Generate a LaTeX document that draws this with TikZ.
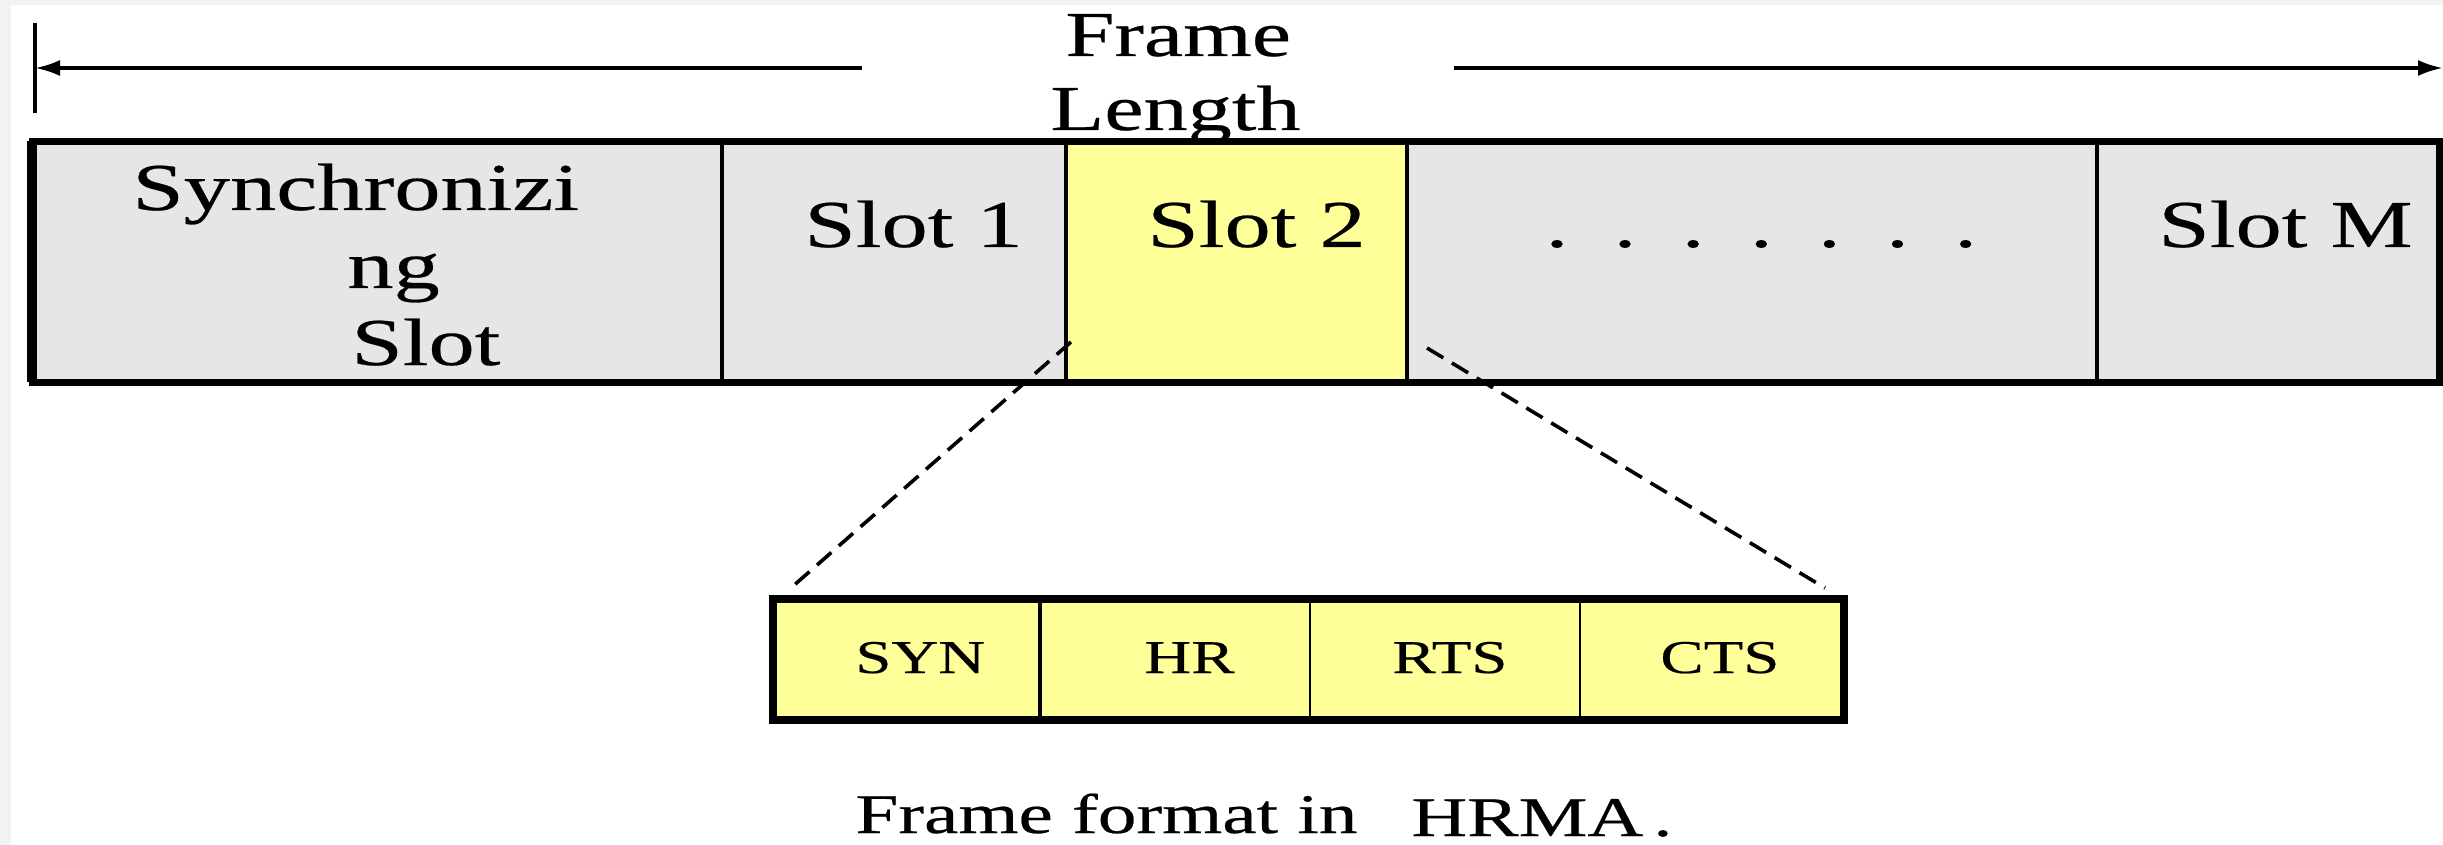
\documentclass[tikz,border=0pt]{standalone}
\usepackage{fontspec}
\newfontfamily\wf[FakeStretch=1.38,FakeBold=0.4]{Liberation Serif}
\usetikzlibrary{arrows.meta}
\definecolor{cellgray}{HTML}{E6E6E6}
\definecolor{cellyellow}{HTML}{FFFF99}
\definecolor{margingray}{HTML}{F2F2F2}
\tikzset{
  cell/.style={draw=black, line width=2pt, fill=cellgray, inner sep=0pt, outer sep=0pt, minimum height=120.5pt},
  subcell/.style={draw=black, line width=1pt, fill=cellyellow, inner sep=0pt, outer sep=0pt, minimum height=60.5pt},
  bigtxt/.style={inner sep=0pt, anchor=base west, font=\wf\fontsize{33.5pt}{40pt}\selectfont},
  toptxt/.style={inner sep=0pt, anchor=base west, font=\wf\fontsize{32pt}{38pt}\selectfont},
  smalltxt/.style={inner sep=0pt, anchor=base west, font=\wf\fontsize{23.5pt}{28pt}\selectfont},
  captxt/.style={inner sep=0pt, anchor=base west, font=\wf\fontsize{28pt}{34pt}\selectfont},
  lenarrow/.style={line width=1.7pt, -{Latex[length=12.5pt,width=8pt]}},
  zoomline/.style={line width=1.8pt, dash pattern=on 9.5pt off 5pt}
}
\begin{document}
\begin{tikzpicture}[x=0.5pt,y=-0.5pt]
  \useasboundingbox (0,0) rectangle (2443,845);
  \fill[margingray] (0,0) rectangle (2443,845);
  \fill[white] (11,5) rectangle (2443,845);

  % frame length dimension
  \coordinate (tickt) at (35,23);
  \coordinate (tickb) at (35,113);
  \coordinate (lstart) at (862,68);
  \coordinate (lend) at (35,68);
  \coordinate (rstart) at (1454,68);
  \coordinate (rend) at (2443,68);
  \draw[line width=2pt] (tickt) -- (tickb);
  \draw[lenarrow] (lstart) -- (lend);
  \draw[lenarrow] (rstart) -- (rend);
  \node[toptxt] (tframe) at (1065,56) {Frame};
  \node[toptxt] (tlength) at (1050,130) {Length};

  % main frame bar
  \node[cell, minimum width=345pt] (sync) at (377,262) {};
  \node[cell, minimum width=172pt] (slot1) at (894,262) {};
  \node[cell, fill=cellyellow, minimum width=170.5pt] (slot2) at (1236.5,262) {};
  \node[cell, minimum width=345pt] (dots) at (1752,262) {};
  \node[cell, minimum width=171pt] (slotm) at (2268,262) {};
  \draw[line width=3.5pt] (sync.north west) rectangle (slotm.south east);
  \draw[line width=5pt] (sync.north west) -- (sync.south west);

  \node[bigtxt] (tsync1) at (132,210) {Synchronizi};
  \node[bigtxt] (tsync2) at (347,288) {ng};
  \node[bigtxt] (tsync3) at (351,365) {Slot};
  \node[bigtxt] (tslot1) at (804,247) {Slot 1};
  \node[bigtxt] (tslot2) at (1147,247) {Slot 2};
  \node[bigtxt] (tdots) at (1545,247) {.\hskip22.5pt.\hskip22.5pt.\hskip22.5pt.\hskip22.5pt.\hskip22.5pt.\hskip22.5pt.};
  \node[bigtxt] (tslotm) at (2158,247) {Slot M};

  % expanded slot format
  \node[subcell, minimum width=133.5pt] (syn) at (906.5,659.5) {};
  \node[subcell, minimum width=135pt] (hr) at (1175,659.5) {};
  \node[subcell, minimum width=135pt] (rts) at (1445,659.5) {};
  \node[subcell, minimum width=132pt] (cts) at (1712,659.5) {};
  \draw[line width=2pt] (syn.north east) -- (syn.south east);
  \draw[line width=4pt] (syn.north west) rectangle (cts.south east);

  \node[smalltxt] (tsyn) at (855,673) {SYN};
  \node[smalltxt] (thr) at (1144,673) {HR};
  \node[smalltxt] (trts) at (1392,673) {RTS};
  \node[smalltxt] (tcts) at (1660,673) {CTS};

  % zoom lines
  \coordinate (z1a) at (1071,342);
  \coordinate (z1b) at (792,587);
  \coordinate (z2a) at (1427,348);
  \coordinate (z2b) at (1825,588);
  \draw[zoomline] (z1a) -- (z1b);
  \draw[zoomline] (z2a) -- (z2b);

  % caption
  \node[captxt] (cap1) at (855,833) {Frame format in};
  \node[captxt] (cap2) at (1411,836) {HRMA\hskip5pt.};
\end{tikzpicture}
\end{document}
